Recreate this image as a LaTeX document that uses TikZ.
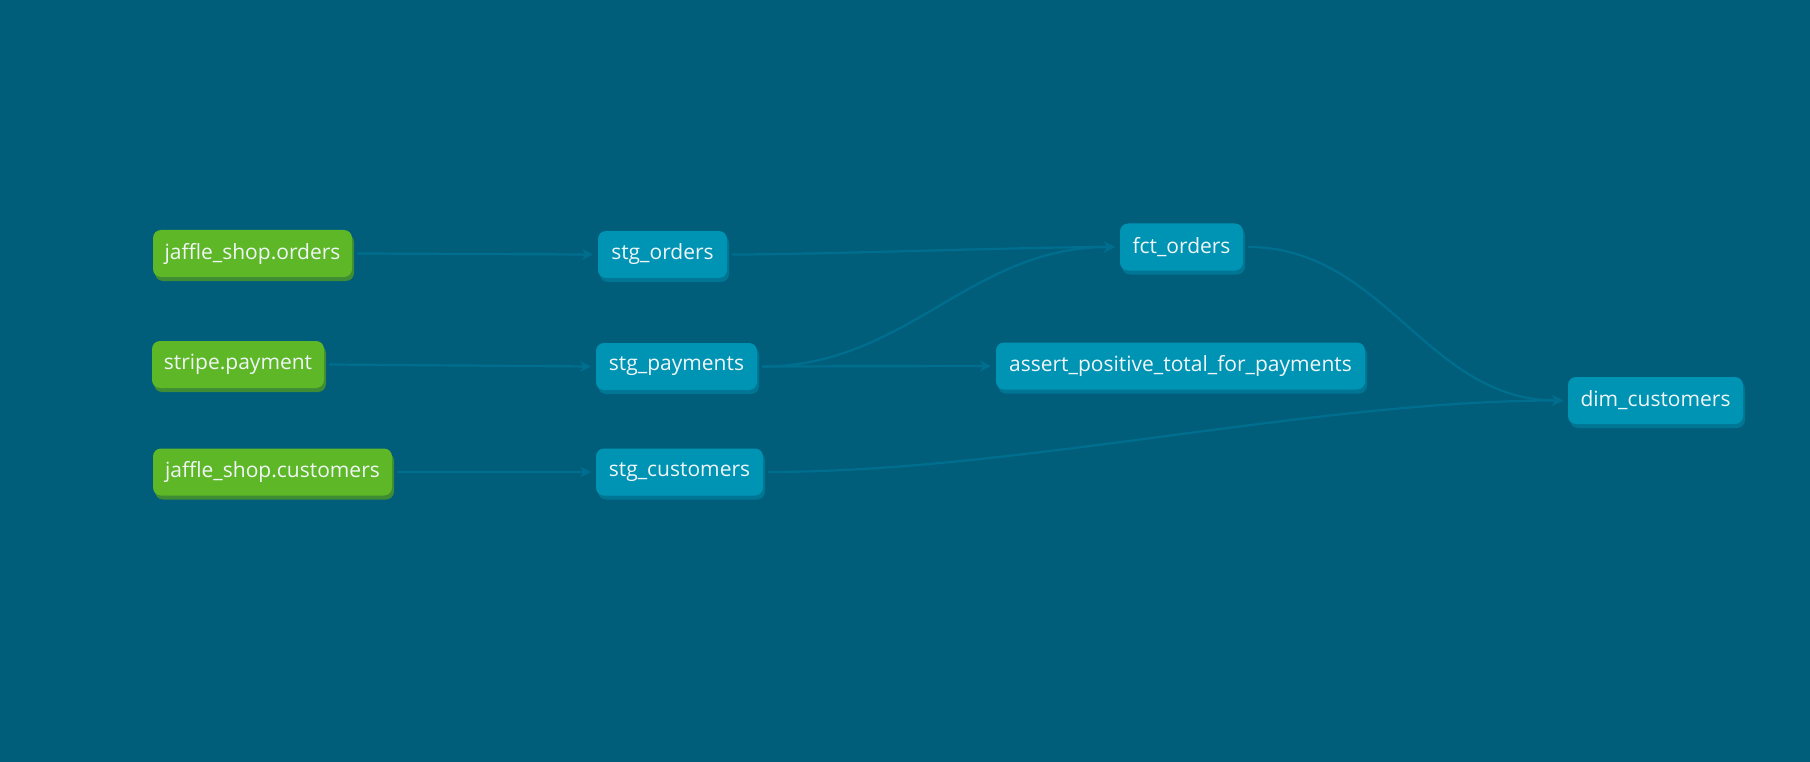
\documentclass[tikz,border=0pt]{standalone}
\usepackage{fontspec}
\setmainfont{Open Sans}
\usetikzlibrary{arrows.meta,shadows}
\definecolor{bg}{RGB}{0,94,122}
\definecolor{srcfill}{RGB}{94,183,38}
\definecolor{srcshadow}{RGB}{62,140,52}
\definecolor{mdlfill}{RGB}{0,148,180}
\definecolor{mdlshadow}{RGB}{0,118,148}
\definecolor{edgecol}{RGB}{0,110,142}
\definecolor{txt}{RGB}{240,246,248}
\tikzset{
  basebox/.style={rounded corners=8pt, minimum height=47pt, inner sep=0pt, outer sep=5pt,
    text=txt, font=\fontsize{21pt}{24pt}\selectfont, anchor=center},
  srcbox/.style={basebox, fill=srcfill, copy shadow={shadow xshift=2pt, shadow yshift=-4pt, fill=srcshadow, draw=none, opacity=1}},
  mdlbox/.style={basebox, fill=mdlfill, copy shadow={shadow xshift=2pt, shadow yshift=-4pt, fill=mdlshadow, draw=none, opacity=1}},
  flow/.style={draw=edgecol, line width=2.2pt, -{Stealth[length=11pt,width=11pt,inset=3.5pt]}},
}
\begin{document}
\begin{tikzpicture}[x=1pt,y=-1pt]
\fill[bg] (0,0) rectangle (1810,762);
\useasboundingbox (0,0) rectangle (1810,762);

\node[srcbox, minimum width=199pt] (jso) at (252.5,253.5) {jaffle\_shop.orders};
\node[srcbox, minimum width=172pt] (stp) at (238,364.5) {stripe.payment};
\node[srcbox, minimum width=239pt] (jsc) at (272.5,472) {jaffle\_shop.customers};

\node[mdlbox, minimum width=129pt] (sto) at (662.5,254.5) {stg\_orders};
\node[mdlbox, minimum width=161pt] (stpay) at (676.5,366.5) {stg\_payments};
\node[mdlbox, minimum width=167pt] (stc) at (679.5,472) {stg\_customers};
\node[mdlbox, minimum width=123pt] (fct) at (1181.5,247) {fct\_orders};
\node[mdlbox, minimum width=369pt] (asp) at (1180.5,366) {assert\_positive\_total\_for\_payments};
\node[mdlbox, minimum width=175pt] (dim) at (1655.5,400.5) {dim\_customers};

\draw[flow] (jso.east) -- (sto.west);
\draw[flow] (stp.east) -- (stpay.west);
\draw[flow] (jsc.east) to[out=0,in=180] (stc.west);
\draw[flow] (sto.east) to[out=0,in=180,looseness=0.6] (fct.west);
\draw[flow] (stpay.east) to[out=0,in=180] (fct.west);
\draw[flow] (stpay.east) -- (asp.west);
\draw[flow] (fct.east) to[out=0,in=180] (dim.west);
\draw[flow] (stc.east) to[out=0,in=180,looseness=0.8] (dim.west);
\end{tikzpicture}
\end{document}
